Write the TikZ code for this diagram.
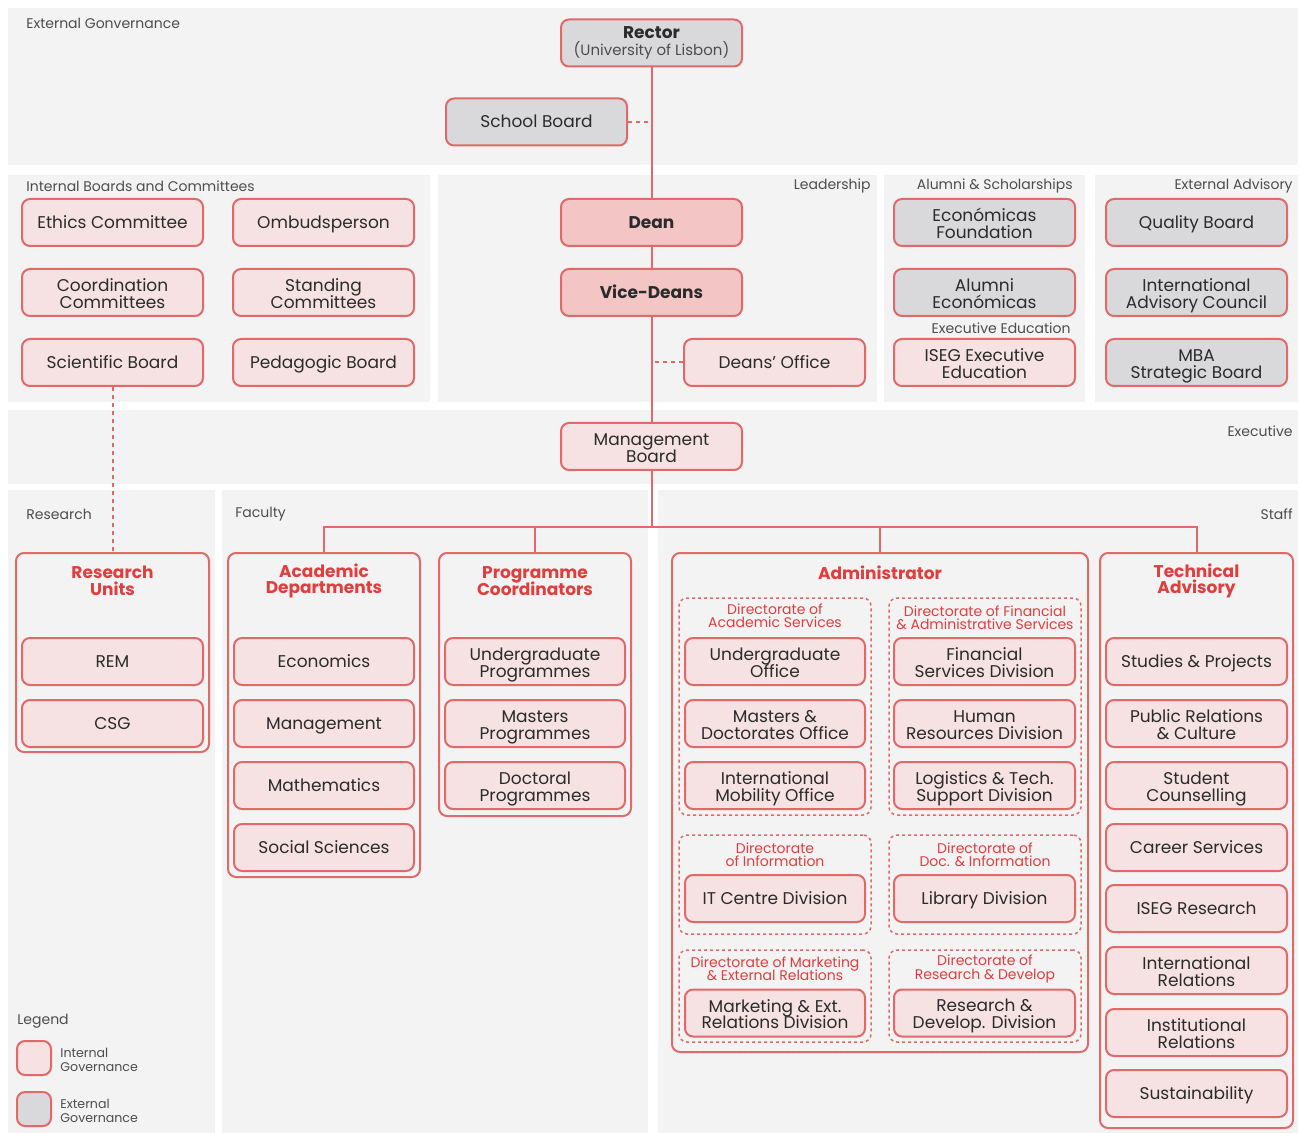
\documentclass[tikz,border=0pt]{standalone}
\usepackage{fontspec}
\setmainfont{Poppins}
\usetikzlibrary{positioning,calc}

\definecolor{panelgray}{HTML}{F3F3F3}
\definecolor{linered}{HTML}{E06A6A}
\definecolor{intfill}{HTML}{F6E2E2}
\definecolor{extfill}{HTML}{D9D9DC}
\definecolor{leadfill}{HTML}{F3C5C5}
\definecolor{titlered}{HTML}{E03E3E}
\definecolor{inktext}{HTML}{2B2B2B}
\definecolor{labelgray}{HTML}{4D4D4D}

% tight font size, no extra gap between lines
\newcommand\tightsize[2]{\fontsize{#1}{#2}\selectfont\lineskiplimit=-20pt\lineskip=0pt}
\newcommand\topstrut{\vrule width 0pt height 8.2pt depth 0pt}
\newcommand\botstrut{\vrule width 0pt height 0pt depth 2.2pt}
% two lines in a box, set a little low like the single ones
\newcommand\twol[2]{\vrule width 0pt height 9.6pt depth 0pt#1\\#2\vrule width 0pt height 0pt depth 2.2pt}

\tikzset{
  unit/.style={draw=linered, line width=1pt, rounded corners=4pt, fill=intfill,
    minimum width=90.5pt, minimum height=23.5pt, align=center, text=inktext,
    inner sep=1pt, font=\tightsize{8.5}{8.4},
    execute at begin node=\topstrut, execute at end node=\botstrut},
  extunit/.style={unit, fill=extfill},
  leadunit/.style={unit, fill=leadfill, font=\tightsize{8.5}{8.4}\bfseries},
  panel/.style={fill=panelgray, draw=none},
  panellabel/.style={text=labelgray, font=\tightsize{7}{7}, inner sep=0pt},
  grp/.style={draw=linered, line width=1pt, rounded corners=4pt, inner sep=0pt},
  grptitle/.style={text=titlered, align=center, font=\tightsize{8.5}{8.3}\bfseries, inner sep=0pt},
  dirgrp/.style={draw=linered, line width=0.75pt, dash pattern=on 1.5pt off 1.5pt, rounded corners=4pt, inner sep=0pt},
  dirtitle/.style={text=titlered, align=center, font=\tightsize{7}{6.6}, inner sep=0pt},
  link/.style={draw=linered, line width=1pt},
  softlink/.style={link, dash pattern=on 2pt off 2pt},
}

\begin{document}
\begin{tikzpicture}[x=0.5pt, y=-0.5pt]
  \fill[white] (0,0) rectangle (1300,1133);
  \useasboundingbox (0,0) rectangle (1300,1133);

  % panels
  \fill[panel] (8,8) rectangle (1298,165);
  \fill[panel] (8,175) rectangle (430,402);
  \fill[panel] (438,175) rectangle (877,402);
  \fill[panel] (884,175) rectangle (1085,402);
  \fill[panel] (1095,175) rectangle (1298,402);
  \fill[panel] (8,410) rectangle (1298,484);
  \fill[panel] (8,490) rectangle (215,1133);
  \fill[panel] (222,490) rectangle (648,1133);
  \fill[panel] (658,490) rectangle (1298,1133);

  \node[panellabel, anchor=west] at (26,23) {External Gonvernance};
  \node[panellabel, anchor=west] at (26,186) {Internal Boards and Committees};
  \node[panellabel, anchor=east] at (871,186) {Leadership};
  \node[panellabel, anchor=east] at (1073,186) {Alumni \& Scholarships};
  \node[panellabel, anchor=east] at (1293,186) {External Advisory};
  \node[panellabel, anchor=east] at (1071,328) {Executive Education};
  \node[panellabel, anchor=east] at (1293,431) {Executive};
  \node[panellabel, anchor=west] at (26,514) {Research};
  \node[panellabel, anchor=west] at (235,514) {Faculty};
  \node[panellabel, anchor=east] at (1293,514) {Staff};

  % governance and leadership
  \node[extunit] (rector) at (651.5,43) {{\bfseries Rector}\\{\color{labelgray}\tightsize{7.5}{7.5}(University of Lisbon)}};
  \node[extunit] (schoolbd) at (536.5,122) {School Board};
  \node[leadunit] (dean) at (651.5,222.5) {Dean};
  \node[leadunit] (vicedeans) at (651.5,292.5) {Vice-Deans};
  \node[unit] (deansoff) at (774.5,362.5) {Deans' Office};
  \node[unit] (mgmtbd) at (651.5,446.5) {\twol{Management}{Board}};

  \node[unit] (ethics) at (112.5,222.5) {Ethics Committee};
  \node[unit] (ombuds) at (323.5,222.5) {Ombudsperson};
  \node[unit] (coordcom) at (112.5,292.5) {\twol{Coordination}{Committees}};
  \node[unit] (standcom) at (323.5,292.5) {\twol{Standing}{Committees}};
  \node[unit] (scibd) at (112.5,362.5) {Scientific Board};
  \node[unit] (pedbd) at (323.5,362.5) {Pedagogic Board};

  \node[extunit] (ecofound) at (984.5,222.5) {\twol{Económicas}{Foundation}};
  \node[extunit] (alumni) at (984.5,292.5) {\twol{Alumni}{Económicas}};
  \node[unit] (isegexec) at (984.5,362.5) {\twol{ISEG Executive}{Education}};
  \node[extunit] (quality) at (1196.5,222.5) {Quality Board};
  \node[extunit] (iac) at (1196.5,292.5) {\twol{International}{Advisory Council}};
  \node[extunit] (mba) at (1196.5,362.5) {\twol{MBA}{Strategic Board}};

  % research and faculty
  \node[grp, minimum width=96.5pt, minimum height=99.5pt] (resunits) at (112.5,652.5) {};
  \node[grptitle] at (112.5,581) {Research\\Units};
  \node[unit] (rem) at (112.5,661.5) {REM};
  \node[unit] (csg) at (112.5,723.5) {CSG};

  \node[grp, minimum width=96pt, minimum height=162pt] (acaddep) at (324,715) {};
  \node[grptitle] at (324,581) {Academic\\Departments};
  \node[unit, minimum width=90pt] (economics) at (324,661.5) {Economics};
  \node[unit, minimum width=90pt] (management) at (324,723.5) {Management};
  \node[unit, minimum width=90pt] (maths) at (324,785.5) {Mathematics};
  \node[unit, minimum width=90pt] (socsci) at (324,847.5) {Social Sciences};

  \node[grp, minimum width=96pt, minimum height=131.5pt] (progcoord) at (535,684.5) {};
  \node[grptitle] at (535,581) {Programme\\Coordinators};
  \node[unit, minimum width=90pt] (ugprog) at (535,661.5) {\twol{Undergraduate}{Programmes}};
  \node[unit, minimum width=90pt] (msprog) at (535,723.5) {\twol{Masters}{Programmes}};
  \node[unit, minimum width=90pt] (docprog) at (535,785.5) {\twol{Doctoral}{Programmes}};

  % staff
  \node[grp, minimum width=208pt, minimum height=249.5pt] (admin) at (880,802.5) {};
  \node[grptitle] at (880,573) {Administrator};

  \node[dirgrp, minimum width=96pt, minimum height=108.5pt] (dacad) at (775,706.5) {};
  \node[dirtitle] at (775,616) {Directorate of\\Academic Services};
  \node[unit, minimum width=90pt] (ugoff) at (775,661.5) {\twol{Undergraduate}{Office}};
  \node[unit, minimum width=90pt] (msdoc) at (775,723.5) {\twol{Masters \&}{Doctorates Office}};
  \node[unit, minimum width=90pt] (intmob) at (775,785.5) {\twol{International}{Mobility Office}};

  \node[dirgrp, minimum width=96pt, minimum height=108.5pt] (dfin) at (985,706.5) {};
  \node[dirtitle] at (985,617.5) {Directorate of Financial\\\& Administrative Services};
  \node[unit] (finserv) at (984.5,661.5) {\twol{Financial}{Services Division}};
  \node[unit] (hr) at (984.5,723.5) {\twol{Human}{Resources Division}};
  \node[unit] (logist) at (984.5,785.5) {\twol{Logistics \& Tech.}{Support Division}};

  \node[dirgrp, minimum width=96pt, minimum height=49.5pt] (dinfo) at (775,884.5) {};
  \node[dirtitle] at (775,855) {Directorate\\of Information};
  \node[unit, minimum width=90pt] (itcentre) at (775,898.5) {IT Centre Division};

  \node[dirgrp, minimum width=96pt, minimum height=49.5pt] (ddoc) at (985,884.5) {};
  \node[dirtitle] at (985,855) {Directorate of\\Doc. \& Information};
  \node[unit] (library) at (984.5,898.5) {Library Division};

  \node[dirgrp, minimum width=96pt, minimum height=46pt] (dmkt) at (775,996) {};
  \node[dirtitle] at (775,969) {Directorate of Marketing\\\& External Relations};
  \node[unit, minimum width=90pt] (mktdiv) at (775,1013) {\twol{Marketing \& Ext.}{Relations Division}};

  \node[dirgrp, minimum width=96pt, minimum height=46pt] (drd) at (985,996) {};
  \node[dirtitle] at (985,969) {Directorate of\\Research \& Develop};
  \node[unit] (rddiv) at (984.5,1013) {\twol{Research \&}{Develop. Division}};

  \node[grp, minimum width=96.5pt, minimum height=287.5pt] (techadv) at (1196.5,840.5) {};
  \node[grptitle] at (1196.5,581) {Technical\\Advisory};
  \node[unit] (studies) at (1196.5,661.5) {Studies \& Projects};
  \node[unit] (pubrel) at (1196.5,723.5) {\twol{Public Relations}{\& Culture}};
  \node[unit] (counsel) at (1196.5,785.5) {\twol{Student}{Counselling}};
  \node[unit] (career) at (1196.5,847.5) {Career Services};
  \node[unit] (isegres) at (1196.5,908.5) {ISEG Research};
  \node[unit] (intrel) at (1196.5,970.5) {\twol{International}{Relations}};
  \node[unit] (instrel) at (1196.5,1032.5) {\twol{Institutional}{Relations}};
  \node[unit] (sustain) at (1196.5,1093.5) {Sustainability};

  % connectors
  \coordinate (bus) at (651.5,527);
  \draw[link] (rector.south) -- (dean.north);
  \draw[link] (dean.south) -- (vicedeans.north);
  \draw[link] (vicedeans.south) -- (mgmtbd.north);
  \draw[link] (mgmtbd.south) -- (bus);
  \draw[softlink] (schoolbd.east) -- (schoolbd.east -| rector.south);
  \draw[softlink] (deansoff.west) -- (deansoff.west -| vicedeans.south);
  \draw[softlink] (scibd.south) -- (resunits.north);
  \draw[link] (acaddep.north) |- (bus) -| (techadv.north);
  \draw[link] (progcoord.north) -- (progcoord.north |- bus);
  \draw[link] (admin.north) -- (admin.north |- bus);

  % legend
  \node[panellabel, anchor=west] at (17,1021) {Legend};
  \node[unit, minimum width=17pt, minimum height=17pt] (keyint) at (34,1058) {};
  \node[extunit, minimum width=17pt, minimum height=17pt] (keyext) at (34,1109) {};
  \node[panellabel, anchor=west, align=left, font=\tightsize{6.3}{7}] at (60,1060) {Internal\\Governance};
  \node[panellabel, anchor=west, align=left, font=\tightsize{6.3}{7}] at (60,1111) {External\\Governance};
\end{tikzpicture}
\end{document}
